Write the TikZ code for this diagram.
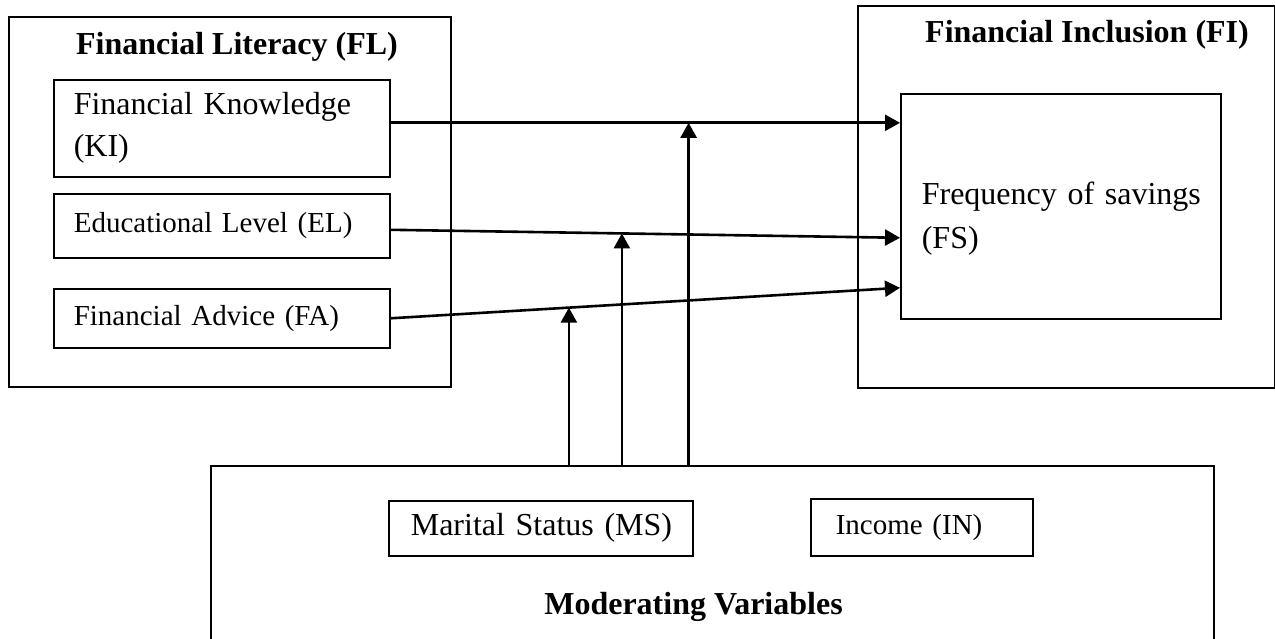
\documentclass[tikz,border=0pt]{standalone}
\usepackage{fontspec}
\setmainfont{Liberation Serif}
\usetikzlibrary{arrows.meta, positioning, calc}

\tikzset{
    frame/.style={draw, line width=1.6pt, inner sep=0pt, anchor=north west},
    var/.style={draw, line width=1.6pt, inner ysep=0pt, anchor=north west, align=left},
    head/.style={font=\bfseries\fontsize{32}{38}\selectfont},
    big/.style={font=\fontsize{32}{42}\selectfont},
    small/.style={font=\fontsize{29}{35}\selectfont},
    link/.style={line width=2.6pt, -{Triangle[length=15pt,width=16pt]}}
}

\begin{document}
\begin{tikzpicture}[x=1pt, y=-1pt]
    \useasboundingbox (0,0) rectangle (1275,639);

    % outer frames
    \node[frame, minimum width=442pt, minimum height=370pt] (fl) at (8,16) {};
    \node[frame, minimum width=417pt, minimum height=382pt] (fi) at (857,5) {};
    \node[frame, minimum width=1003pt, minimum height=190pt] (mod) at (210,465) {};

    \node[head] (fltitle) at (237,47) {Financial Literacy (FL)};
    \node[head] (fititle) at (1087,35) {Financial Inclusion (FI)};
    \node[head] (modtitle) at (693.5,607) {Moderating Variables};

    % variables
    \node[var, big, inner xsep=20pt, text width=296pt, minimum height=97pt] (ki) at (53,79) {\mbox{Financial Knowledge}\\\mbox{(KI)}};
    \node[var, small, inner xsep=20pt, text width=296pt, minimum height=64pt] (el) at (53,193) {\mbox{Educational Level (EL)}};
    \node[var, small, inner xsep=20pt, text width=296pt, minimum height=59pt] (fa) at (53,288) {\mbox{Financial Advice (FA)}};
    \node[var, font=\fontsize{32}{44}\selectfont, inner xsep=21pt, text width=278pt, minimum height=225pt] (fs) at (900,93) {\rule{0pt}{48pt}\mbox{Frequency of savings}\\\mbox{(FS)}};
    \node[var, big, inner xsep=22pt, text width=260pt, minimum height=55pt] (ms) at (388,500) {\mbox{Marital Status (MS)}};
    \node[var, small, inner xsep=25pt, text width=172pt, minimum height=57pt] (in) at (810,498) {\mbox{Income (IN)}};

    % connector ends
    \coordinate (kiout) at ([yshift=5.5pt]ki.east);
    \coordinate (elout) at ([yshift=-4pt]el.east);
    \coordinate (faout) at (fa.east);
    \coordinate (fsin1) at ([yshift=83.5pt]fs.west);
    \coordinate (fsin2) at ([yshift=-31.5pt]fs.west);
    \coordinate (fsin3) at ([yshift=-81.5pt]fs.west);

    \coordinate (m1) at ($(kiout)!0.585!(fsin1)$);
    \coordinate (m2) at ($(elout)!0.454!(fsin2)$);
    \coordinate (m3) at ($(faout)!0.35!(fsin3)$);

    \path[link]
    (kiout) edge (fsin1)
    (elout) edge (fsin2)
    (faout) edge (fsin3)
    (m1 |- mod.north) edge (m1)
    (m2 |- mod.north) edge (m2)
    (m3 |- mod.north) edge (m3);
\end{tikzpicture}
\end{document}
